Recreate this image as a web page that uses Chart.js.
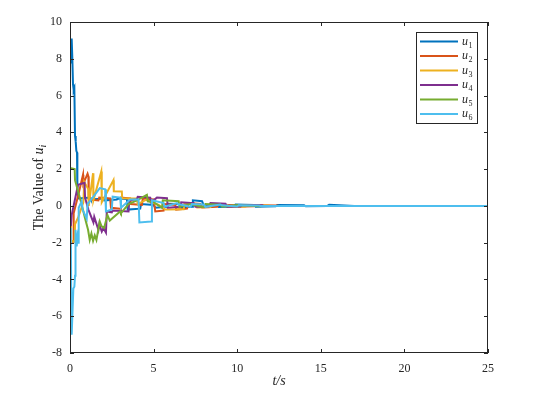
<!DOCTYPE html>
<html>
<head>
<meta charset="utf-8">
<script src="https://cdn.jsdelivr.net/npm/chart.js@4.4.1/dist/chart.umd.min.js"></script>
<style>
  body { margin: 0; background: #fff; }
  #wrap { width: 533px; height: 395px; position: relative; }
</style>
</head>
<body>
<div id="wrap"><canvas id="uChart"></canvas></div>
<script>
// Control inputs u_i over time
const seriesNames = ['1', '2', '3', '4', '5', '6'];
const seriesColors = ['#0072BD', '#D95319', '#EDB120', '#7E2F8E', '#77AC30', '#4DBEEE'];

const t1 = [0, 0.05, 0.1, 0.14, 0.18, 0.22, 0.26, 0.3, 0.34, 0.38, 0.42, 0.44, 0.5, 1.2, 1.25, 2.0, 2.05, 2.8, 2.85, 3.4, 3.45, 4.2, 4.25, 5.0, 5.1, 5.8, 5.85, 6.6, 6.7, 7.3, 7.35, 7.9, 8.0, 8.8, 8.9, 9.8, 9.9, 11.0, 11.1, 12.3, 12.4, 14.0, 14.1, 15.4, 15.5, 17.0, 25];
const u1 = [7.8, 8.4, 9.1, 8.0, 6.6, 6.3, 6.4, 3.8, 3.5, 3.0, 2.9, 0.7, 0.4, 0.45, 0.35, 0.4, 0.3, 0.35, 0.4, 0.38, -0.2, -0.15, 0.1, 0.05, -0.1, -0.05, 0.12, 0.1, -0.08, -0.05, 0.3, 0.25, 0.02, 0.05, -0.06, -0.03, 0.08, 0.05, -0.04, -0.02, 0.05, 0.03, -0.02, 0.0, 0.06, 0.0, 0.0];

const t2 = [0, 0.03, 0.2, 0.22, 0.5, 0.78, 0.8, 1.05, 1.1, 1.12, 1.7, 1.75, 2.4, 2.45, 3.0, 3.05, 3.6, 3.65, 4.3, 4.35, 5.0, 5.1, 5.6, 5.65, 6.3, 6.35, 7.0, 7.1, 7.8, 7.9, 8.8, 8.9, 9.8, 9.9, 11.0, 11.1, 12.4, 12.5, 14.0, 25];
const u2 = [-1.0, -1.95, -1.95, -0.4, 0.6, 1.7, 1.2, 1.75, 1.6, 0.35, 0.3, 0.45, 0.4, -0.1, -0.15, 0.45, 0.4, 0.1, 0.05, 0.4, 0.35, -0.3, -0.25, 0.1, 0.05, -0.2, -0.15, 0.15, 0.1, -0.08, -0.05, 0.07, 0.04, -0.04, -0.02, 0.03, 0.02, -0.01, 0.0, 0.0];

const t3 = [0, 0.04, 0.28, 0.3, 0.5, 0.8, 0.85, 1.1, 1.12, 1.38, 1.4, 1.87, 1.9, 2.6, 2.62, 3.1, 3.12, 4.0, 4.05, 4.6, 4.65, 5.3, 5.7, 5.75, 6.8, 6.85, 7.5, 7.6, 8.4, 8.5, 9.4, 9.5, 10.5, 10.6, 11.8, 12.0, 13.5, 25];
const u3 = [-0.8, -1.9, -1.95, -1.0, -0.6, 0.2, 1.3, 0.9, 0.0, 1.78, 0.3, 1.87, 0.2, 1.4, 0.8, 0.78, 0.42, 0.4, 0.1, 0.35, 0.3, 0.05, -0.2, -0.2, -0.18, 0.12, 0.1, -0.08, -0.06, 0.06, 0.04, -0.04, -0.03, 0.03, 0.02, -0.01, 0.0, 0.0];

const t4 = [0, 0.05, 0.1, 0.48, 0.87, 0.9, 1.1, 1.4, 1.45, 1.7, 1.75, 1.9, 2.0, 2.15, 2.2, 2.5, 2.55, 3.5, 3.55, 4.0, 4.05, 4.8, 4.85, 5.2, 5.8, 5.85, 6.6, 6.65, 7.4, 7.5, 8.3, 8.4, 9.3, 9.4, 10.2, 10.3, 11.5, 11.6, 13.0, 25];
const u4 = [-0.8, -1.1, -0.5, 1.15, 1.25, 0.45, -0.2, -0.9, -0.6, -1.3, -1.0, -1.4, -1.2, -1.45, -0.3, -0.35, -0.25, -0.3, 0.3, 0.35, 0.5, 0.45, 0.2, 0.45, 0.42, -0.1, -0.05, 0.2, 0.15, -0.05, -0.03, 0.15, 0.12, -0.04, -0.03, 0.05, 0.04, -0.01, 0.0, 0.0];

const t5 = [0, 0.04, 0.28, 0.3, 0.68, 0.88, 1.08, 1.18, 1.28, 1.38, 1.48, 1.58, 1.78, 1.88, 2.04, 2.24, 2.38, 2.5, 3.0, 3.05, 3.5, 4.0, 4.6, 4.65, 5.0, 5.5, 5.55, 6.5, 6.55, 7.2, 7.3, 8.0, 8.1, 9.0, 9.1, 10.0, 10.1, 11.4, 11.5, 13, 25];
const u5 = [2.0, 2.05, 2.0, 1.4, 0.15, -0.6, -1.3, -1.85, -1.5, -1.9, -1.6, -1.85, -0.85, -1.1, -1.2, -0.5, -0.8, -0.7, -0.3, -0.4, 0.1, 0.3, 0.6, 0.25, 0.2, -0.1, 0.3, 0.25, -0.05, 0.1, 0.08, -0.06, 0.1, 0.06, -0.04, 0.05, 0.03, -0.02, 0.0, 0.0, 0.0];

const t6 = [0, 0.05, 0.08, 0.1, 0.14, 0.2, 0.26, 0.3, 0.32, 0.34, 0.4, 0.45, 0.5, 0.52, 0.7, 0.75, 1.0, 1.05, 1.4, 1.78, 2.1, 2.15, 2.5, 2.55, 3.0, 3.05, 3.6, 4.1, 4.15, 4.85, 4.9, 5.6, 5.65, 6.4, 6.45, 7.2, 7.3, 8.0, 8.1, 9.0, 9.1, 10, 10.1, 11.3, 11.4, 13, 25];
const u6 = [-1.2, -1.3, -6.2, -7.0, -6.0, -4.5, -4.4, -3.8, -3.7, -1.3, -2.2, -1.7, -2.0, -0.1, 0.25, -0.2, -0.7, 0.1, 0.5, 0.97, 0.9, -0.3, -0.2, 0.5, 0.45, -0.1, 0.35, 0.35, -0.9, -0.85, 0.3, 0.15, -0.05, 0.15, 0.1, -0.05, 0.1, 0.08, -0.05, 0.07, 0.03, -0.03, 0.04, 0.02, -0.01, 0.0, 0.0];

const times = [t1, t2, t3, t4, t5, t6];
const values = [u1, u2, u3, u4, u5, u6];

const xTicks = [0, 5, 10, 15, 20, 25];
const yTicks = [-8, -6, -4, -2, 0, 2, 4, 6, 8, 10];

const serif = "'Liberation Serif', 'DejaVu Serif', serif";
const axisColor = '#262626';

// build datasets, u6 drawn on top like MATLAB
const datasets = values.map((vals, i) => ({
    label: 'u' + seriesNames[i],
    data: vals.map((v, k) => ({ x: times[i][k], y: v })),
    borderColor: seriesColors[i],
    borderWidth: 2,
    pointRadius: 0,
    tension: 0,
    fill: false,
    order: 6 - i
}));

// box, inward ticks, y title and legend drawn by hand
const matlabAxes = {
    id: 'matlabAxes',
    afterDraw(chart) {
        const { ctx, chartArea: a, scales: { x, y } } = chart;
        ctx.save();

        ctx.strokeStyle = axisColor;
        ctx.lineWidth = 1;
        ctx.strokeRect(a.left + 0.5, a.top + 0.5, a.right - a.left - 1, a.bottom - a.top - 1);

        const tl = 4;
        ctx.beginPath();
        xTicks.forEach(v => {
            const px = Math.round(x.getPixelForValue(v)) + 0.5;
            ctx.moveTo(px, a.bottom); ctx.lineTo(px, a.bottom - tl);
            ctx.moveTo(px, a.top); ctx.lineTo(px, a.top + tl);
        });
        yTicks.forEach(v => {
            const py = Math.round(y.getPixelForValue(v)) + 0.5;
            ctx.moveTo(a.left, py); ctx.lineTo(a.left + tl, py);
            ctx.moveTo(a.right, py); ctx.lineTo(a.right - tl, py);
        });
        ctx.stroke();

        // y axis title: "The Value of u_i"
        ctx.save();
        ctx.translate(38, (a.top + a.bottom) / 2);
        ctx.rotate(-Math.PI / 2);
        ctx.fillStyle = axisColor;
        ctx.textBaseline = 'alphabetic';
        const parts = [
            { text: 'The Value of ', font: '14px ' + serif, dy: 0 },
            { text: 'u', font: 'italic 14px ' + serif, dy: 0 },
            { text: 'i', font: 'italic 10px ' + serif, dy: 3 }
        ];
        let total = 0;
        parts.forEach(p => { ctx.font = p.font; p.w = ctx.measureText(p.text).width; total += p.w; });
        let cx = -total / 2;
        parts.forEach(p => {
            ctx.font = p.font;
            ctx.fillText(p.text, cx, 5 + p.dy);
            cx += p.w;
        });
        ctx.restore();

        // legend box
        const bw = 61, rowH = 14.5;
        const bh = rowH * datasets.length + 4;
        const bx = a.right - 11 - bw, by = a.top + 10;
        ctx.fillStyle = '#fff';
        ctx.fillRect(bx, by, bw, bh);
        ctx.strokeStyle = axisColor;
        ctx.strokeRect(bx + 0.5, by + 0.5, bw, bh);
        datasets.forEach((ds, i) => {
            const ry = by + 9.5 + i * rowH;
            ctx.strokeStyle = ds.borderColor;
            ctx.lineWidth = 2;
            ctx.beginPath();
            ctx.moveTo(bx + 4, ry); ctx.lineTo(bx + 42, ry);
            ctx.stroke();
            ctx.fillStyle = axisColor;
            ctx.textBaseline = 'alphabetic';
            ctx.font = 'italic 12px ' + serif;
            ctx.fillText('u', bx + 46, ry + 3);
            ctx.font = '8px ' + serif;
            ctx.fillText(seriesNames[i], bx + 52.5, ry + 6);
        });

        ctx.restore();
    }
};

const ctx = document.getElementById('uChart').getContext('2d');
const uChart = new Chart(ctx, {

    type: 'line',

    data: { datasets: datasets },

    options: {
        responsive: true,
        maintainAspectRatio: false,
        animation: false,
        layout: { padding: { left: 0, right: 45, top: 22, bottom: 0 } },
        plugins: {
            legend: { display: false },
            tooltip: { enabled: false }
        },
        scales: {
            x: {
                type: 'linear',
                min: 0,
                max: 25,
                afterFit: (s) => { s.height = 42; },
                afterBuildTicks: (s) => { s.ticks = xTicks.map(v => ({ value: v })); },
                grid: { display: false, drawTicks: false },
                border: { display: false },
                ticks: { padding: 9, color: axisColor, font: { family: serif, size: 12 } },
                title: {
                    display: true,
                    text: 't/s',
                    color: axisColor,
                    font: { family: serif, size: 14, style: 'italic' },
                    padding: { top: 0, bottom: 5 }
                }
            },
            y: {
                min: -8,
                max: 10,
                afterFit: (s) => { s.width = 70; },
                afterBuildTicks: (s) => { s.ticks = yTicks.map(v => ({ value: v })); },
                grid: { display: false, drawTicks: false },
                border: { display: false },
                ticks: { padding: 8, color: axisColor, font: { family: serif, size: 12 } }
            }
        }
    },

    plugins: [matlabAxes]
});
</script>
</body>
</html>
